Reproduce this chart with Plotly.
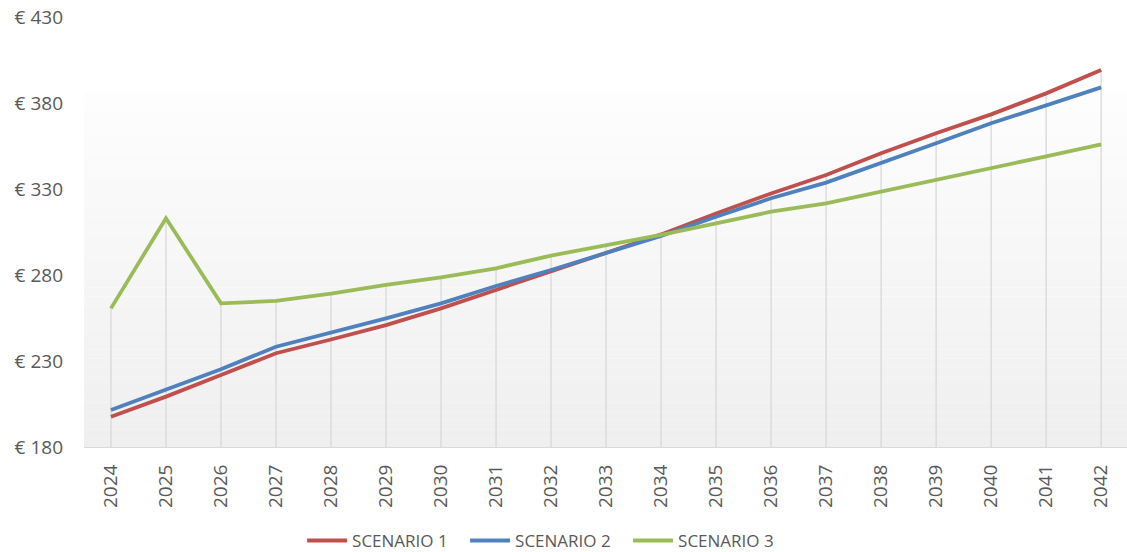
import plotly.graph_objects as go

# Annual values per scenario (EUR)
years = [2024, 2025, 2026, 2027, 2028, 2029, 2030, 2031, 2032, 2033,
         2034, 2035, 2036, 2037, 2038, 2039, 2040, 2041, 2042]
scenario_1 = [197.6, 209.3, 221.9, 234.5, 242.5, 250.9, 260.6, 271.3, 281.9, 292.5,
              303.6, 315.8, 327.4, 338.1, 350.8, 362.4, 373.4, 385.6, 399.2]
scenario_2 = [201.5, 213.1, 225.2, 238.3, 246.5, 254.8, 263.5, 273.6, 282.9, 292.6,
              302.7, 313.9, 324.6, 333.7, 344.9, 356.6, 368.2, 378.8, 389.1]
scenario_3 = [260.6, 313.0, 263.5, 264.9, 269.2, 274.2, 278.6, 283.9, 291.3, 297.4,
              303.3, 310.0, 316.8, 321.7, 328.4, 335.5, 342.0, 349.0, 356.0]
series_names = ["SCENARIO 1", "SCENARIO 2", "SCENARIO 3"]
y_ticks = [180, 230, 280, 330, 380, 430]
y_tick_labels = ["€ 180", "€ 230", "€ 280", "€ 330", "€ 380", "€ 430"]

colors = ["#c0504d", "#4f81bd", "#9bbb59"]
font_family = "Open Sans, Noto Sans, sans-serif"
label_color = "#595959"

fig = go.Figure()

# Drop lines from the axis up to the highest series value for each year
y_min = y_ticks[0]
drop_x, drop_y = [], []
for i, yr in enumerate(years):
    top = max(scenario_1[i], scenario_2[i], scenario_3[i])
    drop_x += [yr, yr, None]
    drop_y += [y_min, top, None]
fig.add_trace(go.Scatter(
    x=drop_x, y=drop_y, mode="lines",
    line=dict(color="#d6d6d6", width=1.2),
    showlegend=False, hoverinfo="skip",
))

for name, vals, col in zip(series_names, [scenario_1, scenario_2, scenario_3], colors):
    fig.add_trace(go.Scatter(
        x=years, y=vals, mode="lines", name=name,
        line=dict(color=col, width=3.8),
    ))

# Soft vertical gradient behind the plot area
shapes = []
n_bands = 40
grad_top = 0.824
for k in range(n_bands):
    y0 = grad_top * k / n_bands
    y1 = grad_top * (k + 1) / n_bands
    t = k / (n_bands - 1)
    c = int(round(239 + (253 - 239) * t))
    shapes.append(dict(
        type="rect", xref="x domain", yref="y domain",
        x0=0, x1=1, y0=y0, y1=y1,
        fillcolor=f"rgb({c},{c},{c})", line=dict(width=0), layer="below",
    ))

fig.update_layout(
    width=1127, height=552,
    margin=dict(l=84, r=0, t=17, b=105),
    paper_bgcolor="white", plot_bgcolor="white",
    shapes=shapes,
    font=dict(family=font_family, color=label_color),
    legend=dict(
        orientation="h", xref="container", yref="container",
        x=0.485, xanchor="center", y=0.02, yanchor="middle",
        font=dict(size=17, color=label_color, family=font_family),
        itemwidth=40, traceorder="normal",
        entrywidth=108, entrywidthmode="pixels",
    ),
    xaxis=dict(
        range=[2023.51, 2042.47],
        tickmode="array", tickvals=years, ticktext=[str(y) for y in years],
        tickangle=-90, tickfont=dict(size=19, color=label_color),
        showgrid=False, zeroline=False,
        showline=True, linecolor="#d9d9d9", linewidth=1,
        ticks="", ticklabelstandoff=9,
    ),
    yaxis=dict(
        range=[180, 430],
        tickmode="array", tickvals=y_ticks, ticktext=y_tick_labels,
        tickfont=dict(size=19, color=label_color),
        showgrid=False, zeroline=False, showline=False,
        ticks="", ticklabelstandoff=20,
    ),
)

fig.write_html("out.html")
